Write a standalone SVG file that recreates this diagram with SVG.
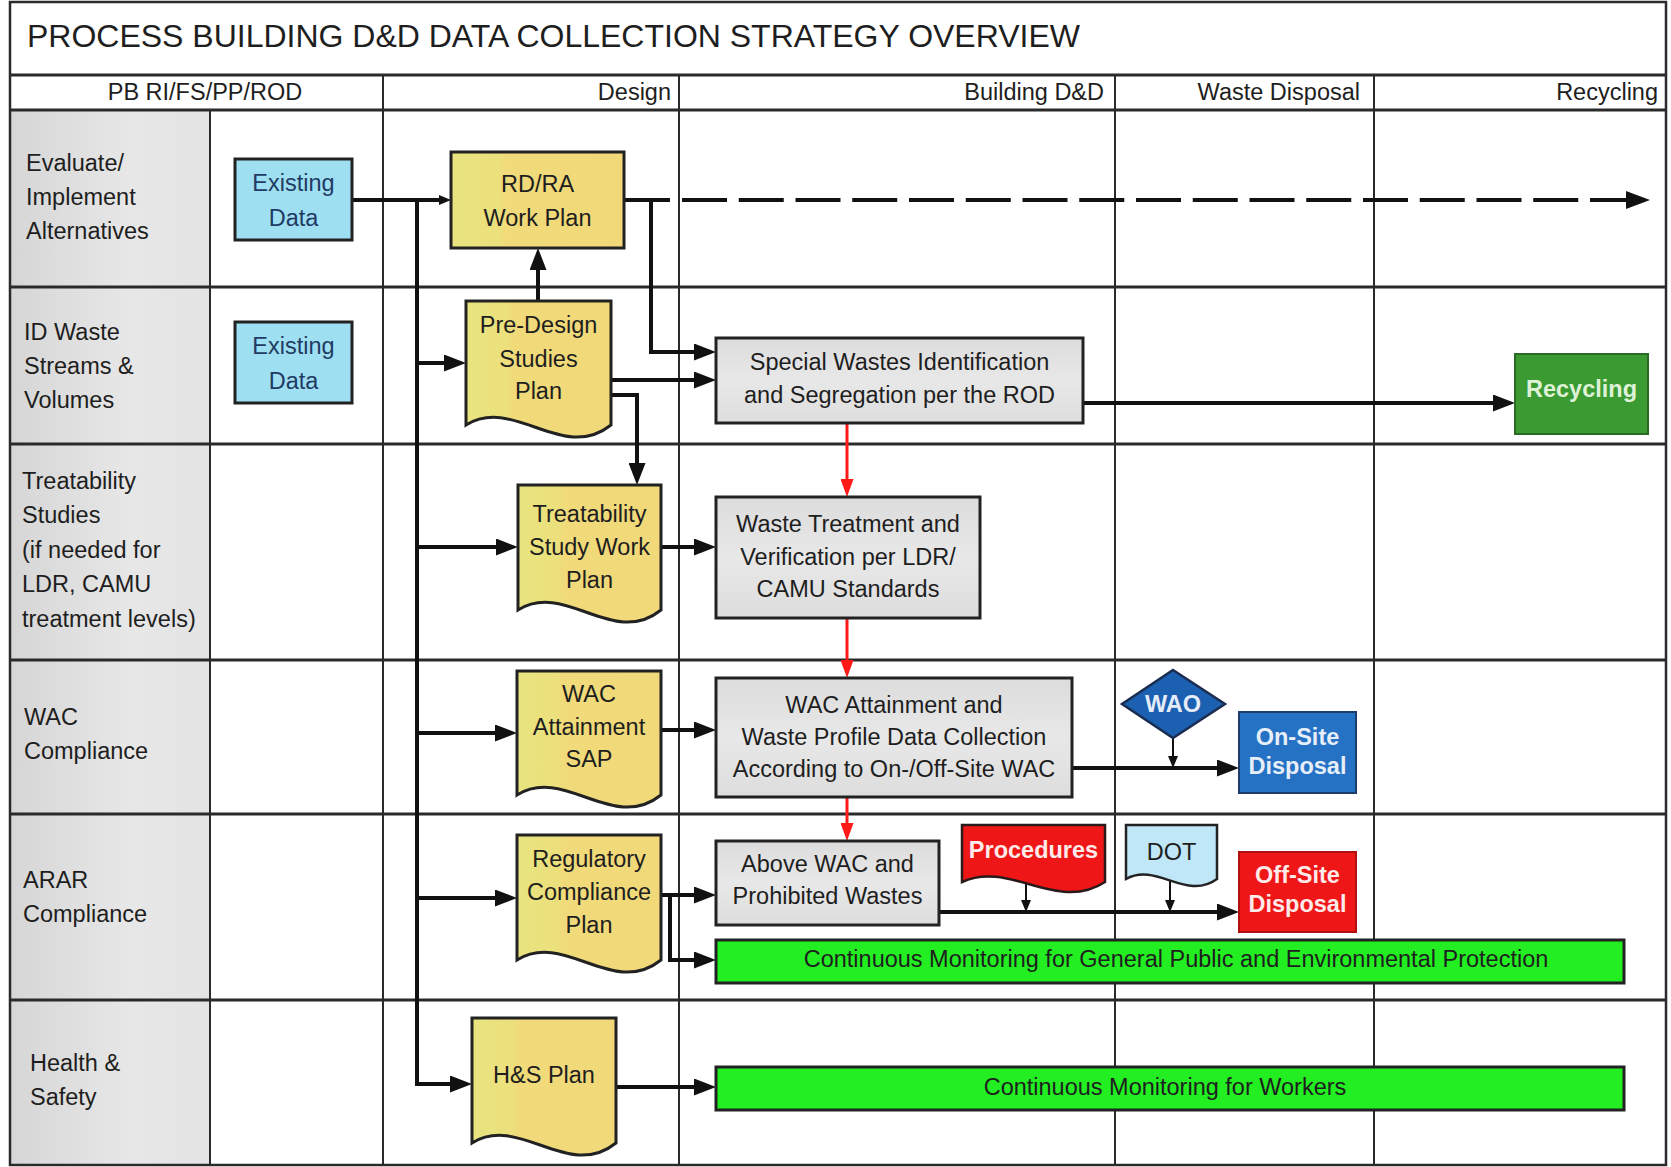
<svg xmlns="http://www.w3.org/2000/svg" width="1671" height="1167" viewBox="0 0 1671 1167">
<defs>
<style>
.t{font-family:"Liberation Sans",Arial,sans-serif;font-size:23.5px;fill:#1e1e1e}
.c{text-anchor:middle}
.e{text-anchor:end}
.b{font-weight:bold}
.nv{fill:#1f3b63}
.grid{stroke:#2a2a2a;stroke-width:2;fill:none}
.hl{stroke:#2a2a2a;stroke-width:3;fill:none}
.box{stroke:#222;stroke-width:3}
.k{stroke:#111;stroke-width:4;fill:none}
.kt{stroke:#111;stroke-width:2;fill:none}
.r{stroke:#ff1a1a;stroke-width:3;fill:none}
</style>
<linearGradient id="lab" x1="0" y1="0" x2="1" y2="0">
<stop offset="0" stop-color="#d6d6d6"/><stop offset="0.6" stop-color="#e7e7e7"/><stop offset="1" stop-color="#e4e4e4"/>
</linearGradient>
<linearGradient id="yel" x1="0" y1="0" x2="1" y2="0">
<stop offset="0" stop-color="#e8e47f"/><stop offset="0.28" stop-color="#ece07c"/><stop offset="0.32" stop-color="#f1da7a"/><stop offset="1" stop-color="#f1d97a"/>
</linearGradient>
<linearGradient id="gry" x1="0" y1="0" x2="0" y2="1">
<stop offset="0" stop-color="#dcdcdc"/><stop offset="0.5" stop-color="#e8e8e8"/><stop offset="1" stop-color="#dddddd"/>
</linearGradient>
<marker id="ah" viewBox="0 0 10 10" refX="0" refY="5" markerWidth="22" markerHeight="17" markerUnits="userSpaceOnUse" orient="auto" preserveAspectRatio="none"><path d="M0,0 L10,5 L0,10 Z" fill="#111"/></marker>
<marker id="ahd" viewBox="0 0 10 10" refX="0" refY="5" markerWidth="24" markerHeight="18" markerUnits="userSpaceOnUse" orient="auto" preserveAspectRatio="none"><path d="M0,0 L10,5 L0,10 Z" fill="#111"/></marker>
<marker id="ahs" viewBox="0 0 10 10" refX="0" refY="5" markerWidth="12" markerHeight="10" markerUnits="userSpaceOnUse" orient="auto" preserveAspectRatio="none"><path d="M0,0 L10,5 L0,10 Z" fill="#111"/></marker>
<marker id="ahr" viewBox="0 0 10 10" refX="0" refY="5" markerWidth="18" markerHeight="13" markerUnits="userSpaceOnUse" orient="auto" preserveAspectRatio="none"><path d="M0,0 L10,5 L0,10 Z" fill="#ff1a1a"/></marker>
</defs>

<g id="grid">
<rect x="10" y="2" width="1656" height="1163" fill="#ffffff"/>
<rect x="10" y="110" width="200" height="1055" fill="url(#lab)"/>
<path class="hl" d="M10,75 H1666 M10,110 H1666 M10,287 H1666 M10,444 H1666 M10,660 H1666 M10,814 H1666 M10,1000 H1666"/>
<path class="grid" d="M210,110 V1165 M383,75 V1165 M679,75 V1165 M1115,75 V1165 M1374,75 V1165"/>
<rect x="10" y="2" width="1656" height="1163" fill="none" stroke="#2a2a2a" stroke-width="2.5"/>
</g>

<g id="title">
<text class="t" x="27" y="47" style="font-size:31px" textLength="1053" lengthAdjust="spacingAndGlyphs">PROCESS BUILDING D&amp;D DATA COLLECTION STRATEGY OVERVIEW</text>
</g>

<g id="phases">
<text class="t c" x="205" y="100">PB RI/FS/PP/ROD</text>
<text class="t e" x="671" y="100">Design</text>
<text class="t e" x="1104" y="100">Building D&amp;D</text>
<text class="t e" x="1360" y="100">Waste Disposal</text>
<text class="t e" x="1658" y="100">Recycling</text>
</g>

<g id="lanes">
<text class="t" x="26" y="171">Evaluate/</text>
<text class="t" x="26" y="205">Implement</text>
<text class="t" x="26" y="239">Alternatives</text>
<text class="t" x="24" y="340">ID Waste</text>
<text class="t" x="24" y="374">Streams &amp;</text>
<text class="t" x="24" y="408">Volumes</text>
<text class="t" x="22" y="489">Treatability</text>
<text class="t" x="22" y="523">Studies</text>
<text class="t" x="22" y="558">(if needed for</text>
<text class="t" x="22" y="592">LDR, CAMU</text>
<text class="t" x="22" y="627">treatment levels)</text>
<text class="t" x="24" y="725">WAC</text>
<text class="t" x="24" y="759">Compliance</text>
<text class="t" x="23" y="888">ARAR</text>
<text class="t" x="23" y="922">Compliance</text>
<text class="t" x="30" y="1071">Health &amp;</text>
<text class="t" x="30" y="1105">Safety</text>
</g>

<g id="connectors">
<path class="k" d="M352,200 H439" marker-end="url(#ahs)"/>
<path class="k" d="M417,200 V1084 H450" marker-end="url(#ah)"/>
<path class="k" d="M417,363 H444" marker-end="url(#ah)"/>
<path class="k" d="M417,547 H496" marker-end="url(#ah)"/>
<path class="k" d="M417,733 H495" marker-end="url(#ah)"/>
<path class="k" d="M417,898 H495" marker-end="url(#ah)"/>
<path class="k" d="M538,301 V270" marker-end="url(#ah)"/>
<path class="k" d="M624,200 H651 V352 H694" marker-end="url(#ah)"/>
<path class="k" d="M624,200 H670"/>
<path class="k" d="M682,200 H1626" stroke-width="5" stroke-dasharray="45 11.75" marker-end="url(#ahd)"/>
<path class="k" d="M610,380 H694" marker-end="url(#ah)"/>
<path class="k" d="M610,395 H637 V463" marker-end="url(#ah)"/>
<path class="k" d="M1083,403 H1493" marker-end="url(#ah)"/>
<path class="r" d="M847,423 V479" marker-end="url(#ahr)"/>
<path class="k" d="M660,547 H694" marker-end="url(#ah)"/>
<path class="r" d="M847,618 V660" marker-end="url(#ahr)"/>
<path class="k" d="M661,730 H694" marker-end="url(#ah)"/>
<path class="k" d="M1072,768 H1217" marker-end="url(#ah)"/>
<path class="kt" d="M1173,738 V756" marker-end="url(#ahs)"/>
<path class="r" d="M847,797 V823" marker-end="url(#ahr)"/>
<path class="k" d="M661,895 H694" marker-end="url(#ah)"/>
<path class="k" d="M661,895 H670 V960 H694" marker-end="url(#ah)"/>
<path class="k" d="M939,912 H1217" marker-end="url(#ah)"/>
<path class="kt" d="M1026,884 V900" marker-end="url(#ahs)"/>
<path class="kt" d="M1170,881 V900" marker-end="url(#ahs)"/>
<path class="k" d="M616,1087 H694" marker-end="url(#ah)"/>
</g>

<g id="existing-data-1">
<rect class="box" x="235" y="159" width="117" height="81" fill="#9fdff2"/>
<text class="t c nv" x="293.5" y="191">Existing</text>
<text class="t c nv" x="293.5" y="226">Data</text>
</g>
<g id="existing-data-2">
<rect class="box" x="235" y="322" width="117" height="81" fill="#9fdff2"/>
<text class="t c nv" x="293.5" y="354">Existing</text>
<text class="t c nv" x="293.5" y="389">Data</text>
</g>
<g id="rdra-work-plan">
<rect class="box" x="451" y="152" width="173" height="96" fill="url(#yel)"/>
<text class="t c" x="537.5" y="192">RD/RA</text>
<text class="t c" x="537.5" y="226">Work Plan</text>
</g>
<g id="pre-design">
<path class="box" d="M466,301 H611 V425 C562.7,463.4 514.3,395.5 466,425 Z" fill="url(#yel)"/>
<text class="t c" x="538.5" y="333">Pre-Design</text>
<text class="t c" x="538.5" y="367">Studies</text>
<text class="t c" x="538.5" y="399">Plan</text>
</g>
<g id="treatability-plan">
<path class="box" d="M518,485 H661 V610 C613.3,648.4 565.7,580.5 518,610 Z" fill="url(#yel)"/>
<text class="t c" x="589.5" y="522">Treatability</text>
<text class="t c" x="589.5" y="555">Study Work</text>
<text class="t c" x="589.5" y="588">Plan</text>
</g>
<g id="wac-sap">
<path class="box" d="M517,671 H661 V795 C613,833.4 565,765.5 517,795 Z" fill="url(#yel)"/>
<text class="t c" x="589" y="702">WAC</text>
<text class="t c" x="589" y="735">Attainment</text>
<text class="t c" x="589" y="767">SAP</text>
</g>
<g id="regulatory-plan">
<path class="box" d="M517,835 H661 V960 C613,998.4 565,930.5 517,960 Z" fill="url(#yel)"/>
<text class="t c" x="589" y="867">Regulatory</text>
<text class="t c" x="589" y="900">Compliance</text>
<text class="t c" x="589" y="933">Plan</text>
</g>
<g id="hs-plan">
<path class="box" d="M472,1018 H616 V1143 C568,1181.4 520,1113.5 472,1143 Z" fill="url(#yel)"/>
<text class="t c" x="544" y="1083">H&amp;S Plan</text>
</g>
<g id="special-wastes">
<rect class="box" x="716" y="338" width="367" height="85" fill="url(#gry)"/>
<text class="t c" x="899.5" y="370">Special Wastes Identification</text>
<text class="t c" x="899.5" y="403">and Segregation per the ROD</text>
</g>
<g id="recycling">
<rect x="1515" y="354" width="133" height="80" fill="#3b9b32" stroke="#2a6a24" stroke-width="2"/>
<text class="t c b" x="1581.5" y="397" style="fill:#dff2d8">Recycling</text>
</g>
<g id="waste-treatment">
<rect class="box" x="716" y="497" width="264" height="121" fill="url(#gry)"/>
<text class="t c" x="848" y="532">Waste Treatment and</text>
<text class="t c" x="848" y="565">Verification per LDR/</text>
<text class="t c" x="848" y="597">CAMU Standards</text>
</g>
<g id="wac-attainment">
<rect class="box" x="716" y="678" width="356" height="119" fill="url(#gry)"/>
<text class="t c" x="894" y="713">WAC Attainment and</text>
<text class="t c" x="894" y="745">Waste Profile Data Collection</text>
<text class="t c" x="894" y="777">According to On-/Off-Site WAC</text>
</g>
<g id="wao">
<path d="M1173,670 L1225,704 L1173,738 L1122,704 Z" fill="#1c60b2" stroke="#1a2c50" stroke-width="2.5"/>
<text class="t c b" x="1173" y="712" style="fill:#e4ecf8">WAO</text>
</g>
<g id="on-site-disposal">
<rect x="1239" y="712" width="117" height="81" fill="#2571c3" stroke="#1c3d6e" stroke-width="2"/>
<text class="t c b" x="1297.5" y="745" style="fill:#e6eef8">On-Site</text>
<text class="t c b" x="1297.5" y="774" style="fill:#e6eef8">Disposal</text>
</g>
<g id="above-wac">
<rect class="box" x="716" y="841" width="223" height="84" fill="url(#gry)"/>
<text class="t c" x="827.5" y="872">Above WAC and</text>
<text class="t c" x="827.5" y="904">Prohibited Wastes</text>
</g>
<g id="procedures">
<path d="M962,825 H1105 V882 C1057.3,913.25 1009.7,859.7 962,882 Z" fill="#ee1616" stroke="#2a1a1a" stroke-width="2.5"/>
<text class="t c b" x="1033.5" y="858" style="fill:#ffeaea">Procedures</text>
</g>
<g id="dot">
<path d="M1126,825 H1217 V879 C1186.3,901.3 1156.7,862 1126,879 Z" fill="#bfe7f7" stroke="#222" stroke-width="2.5"/>
<text class="t c" x="1171.5" y="860">DOT</text>
</g>
<g id="off-site-disposal">
<rect x="1239" y="852" width="117" height="80" fill="#ee1616" stroke="#b01010" stroke-width="2"/>
<text class="t c b" x="1297.5" y="883" style="fill:#ffeaea">Off-Site</text>
<text class="t c b" x="1297.5" y="912" style="fill:#ffeaea">Disposal</text>
</g>
<g id="monitoring-public">
<rect class="box" x="716" y="940" width="908" height="43" fill="#22ee22"/>
<text class="t c" x="1176" y="967">Continuous Monitoring for General Public and Environmental Protection</text>
</g>
<g id="monitoring-workers">
<rect class="box" x="716" y="1067" width="908" height="43" fill="#22ee22"/>
<text class="t c" x="1165" y="1095">Continuous Monitoring for Workers</text>
</g>
</svg>
